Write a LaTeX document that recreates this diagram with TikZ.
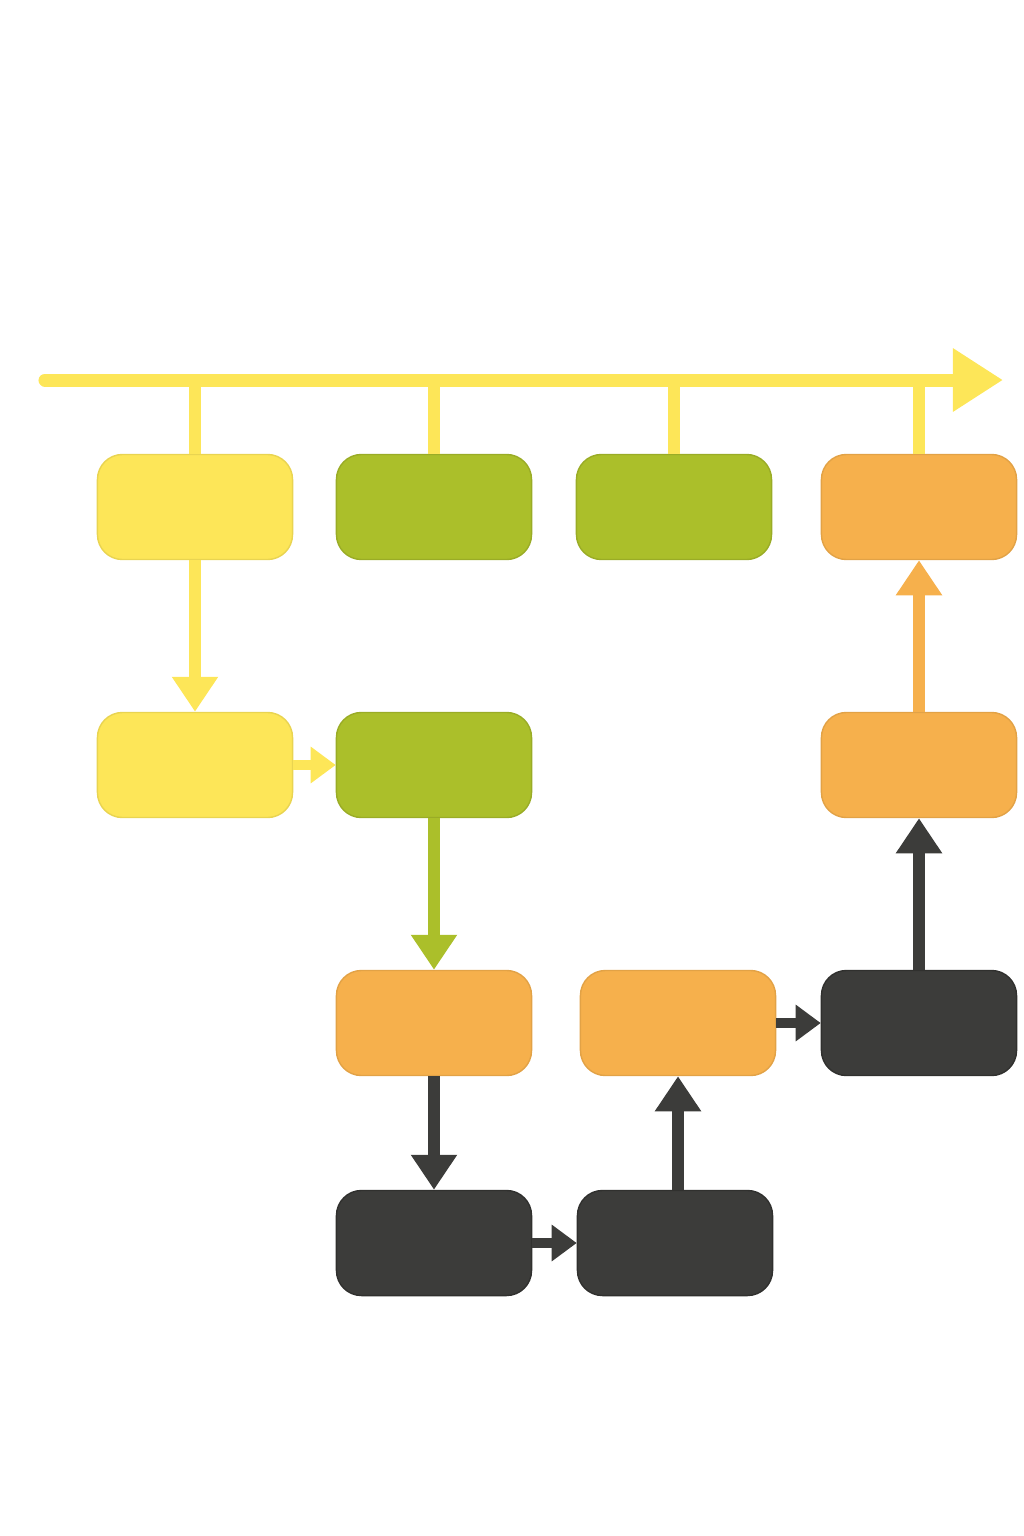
\documentclass[tikz,border=0pt]{standalone}
\usetikzlibrary{arrows.meta}
\definecolor{sunyellow}{HTML}{FDE658}
\definecolor{leafgreen}{HTML}{ABBF2A}
\definecolor{warmorange}{HTML}{F6B04C}
\definecolor{charcoal}{HTML}{3C3C3A}
\begin{document}
\begin{tikzpicture}[x=0.01cm, y=-0.01cm,
    box/.style={rectangle, rounded corners=0.25cm, minimum width=1.95cm, minimum height=1.05cm, line width=0.4pt},
    ybox/.style={box, fill=sunyellow, draw=sunyellow!92!black},
    gbox/.style={box, fill=leafgreen, draw=leafgreen!90!black},
    obox/.style={box, fill=warmorange, draw=warmorange!92!black},
    dbox/.style={box, fill=charcoal, draw=charcoal!80!black},
    tick/.style={sunyellow, line width=0.12cm},
    longarrow/.style={line width=0.12cm, -{Triangle[length=0.35cm, width=0.44cm]}},
    shortarrow/.style={line width=0.1cm, -{Triangle[length=0.25cm, width=0.35cm]}}]
    \useasboundingbox (0,0) rectangle (1024,1536);

    % Boxes
    \node[ybox] (r1c1) at (195,507) {};
    \node[gbox] (r1c2) at (434,507) {};
    \node[gbox] (r1c3) at (674,507) {};
    \node[obox] (r1c4) at (919,507) {};
    \node[ybox] (r2c1) at (195,765) {};
    \node[gbox] (r2c2) at (434,765) {};
    \node[obox] (r2c4) at (919,765) {};
    \node[obox] (r3c2) at (434,1023) {};
    \node[obox] (r3c3) at (678,1023) {};
    \node[dbox] (r3c4) at (919,1023) {};
    \node[dbox] (r4c2) at (434,1243) {};
    \node[dbox] (r4c3) at (675,1243) {};

    % Timeline
    \coordinate (tstart) at (45,380);
    \coordinate (tend) at (1003,380);
    \draw[tick] (r1c1.north) -- (r1c1.north |- tstart);
    \draw[tick] (r1c2.north) -- (r1c2.north |- tstart);
    \draw[tick] (r1c3.north) -- (r1c3.north |- tstart);
    \draw[tick] (r1c4.north) -- (r1c4.north |- tstart);
    \draw[sunyellow, line width=0.13cm, line cap=round, -{Triangle[length=0.5cm, width=0.6cm]}] (tstart) -- (tend);

    % Flow
    \draw[longarrow, sunyellow] (r1c1.south) -- (r2c1.north);
    \draw[shortarrow, sunyellow] (r2c1.east) -- (r2c2.west);
    \draw[longarrow, leafgreen] (r2c2.south) -- (r3c2.north);
    \draw[longarrow, charcoal] (r3c2.south) -- (r4c2.north);
    \draw[shortarrow, charcoal] (r4c2.east) -- (r4c3.west);
    \draw[longarrow, charcoal] (r4c3.north -| r3c3.south) -- (r3c3.south);
    \draw[shortarrow, charcoal] (r3c3.east) -- (r3c4.west);
    \draw[longarrow, charcoal] (r3c4.north) -- (r2c4.south);
    \draw[longarrow, warmorange] (r2c4.north) -- (r1c4.south);
\end{tikzpicture}
\end{document}
